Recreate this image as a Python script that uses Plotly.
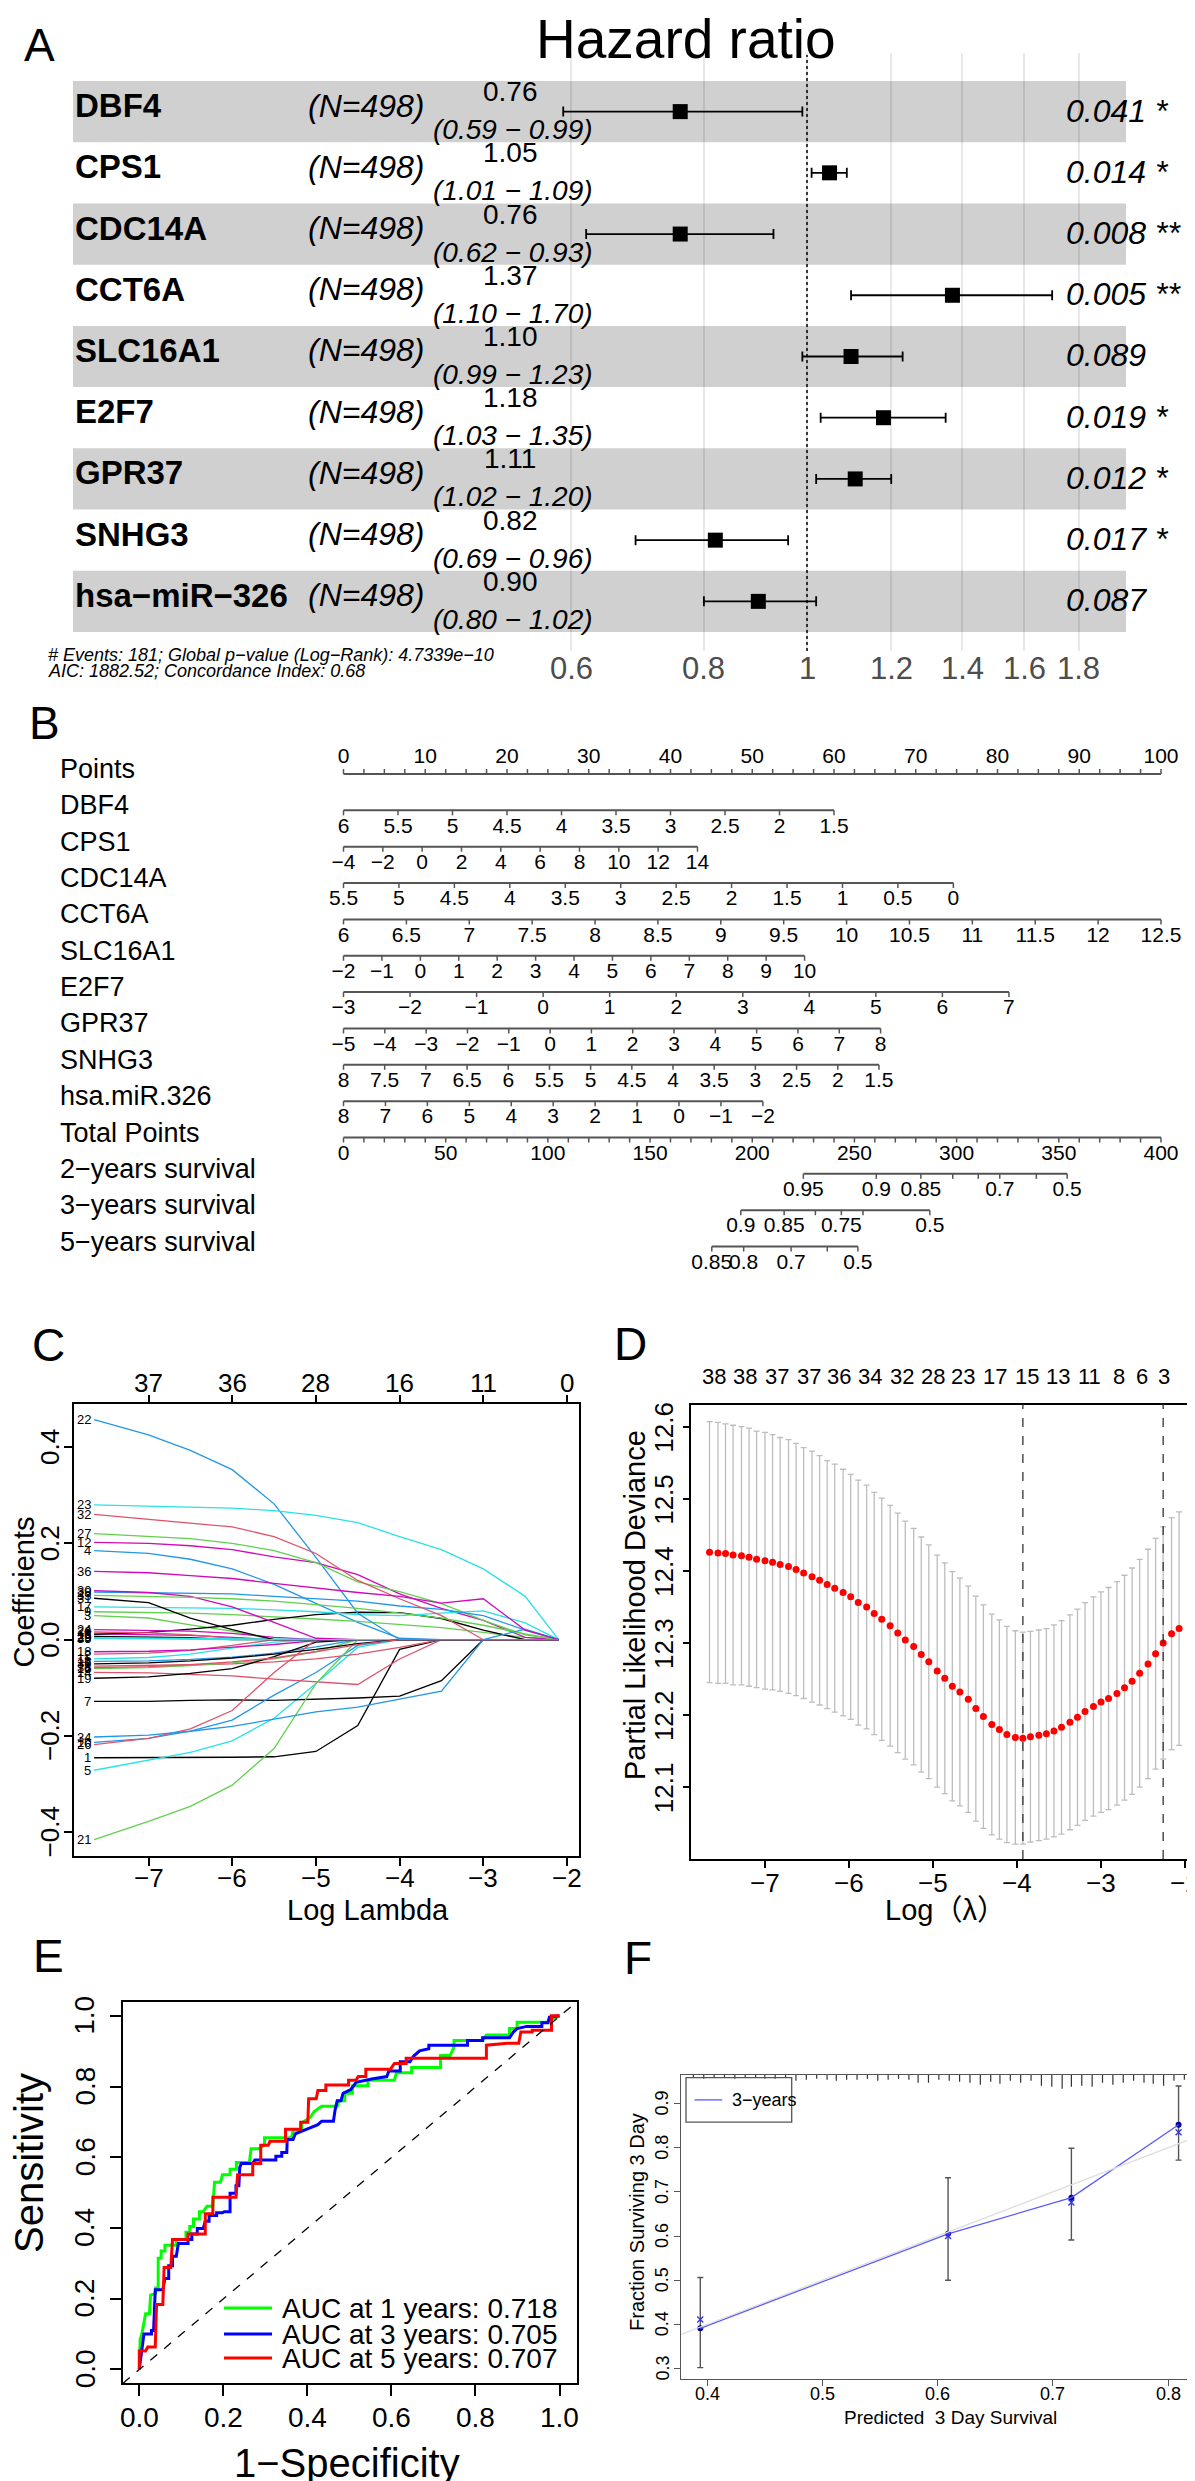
import numpy as np
import plotly.graph_objects as go

W, H = 1195, 2481
FONT = "Liberation Sans, Arial, Helvetica, sans-serif"
CJK = "Liberation Sans, Noto Sans CJK SC, sans-serif"

# ====================== DATA ======================
# ---- Panel A: multivariate Cox forest plot ----
genes = ["DBF4", "CPS1", "CDC14A", "CCT6A", "SLC16A1", "E2F7", "GPR37", "SNHG3", "hsa−miR−326"]
n_patients = [498, 498, 498, 498, 498, 498, 498, 498, 498]
hr = [0.76, 1.05, 0.76, 1.37, 1.10, 1.18, 1.11, 0.82, 0.90]
hr_low = [0.59, 1.01, 0.62, 1.10, 0.99, 1.03, 1.02, 0.69, 0.80]
hr_high = [0.99, 1.09, 0.93, 1.70, 1.23, 1.35, 1.20, 0.96, 1.02]
p_values = [0.041, 0.014, 0.008, 0.005, 0.089, 0.019, 0.012, 0.017, 0.087]
hr_ticks = [0.6, 0.8, 1, 1.2, 1.4, 1.6, 1.8]
n_events = 181
global_p = "4.7339e−10"
aic = 1882.52
c_index = 0.68

# ---- Panel B: nomogram ----
nomo_labels = ["Points", "DBF4", "CPS1", "CDC14A", "CCT6A", "SLC16A1", "E2F7", "GPR37", "SNHG3",
               "hsa.miR.326", "Total Points", "2−years survival", "3−years survival", "5−years survival"]
dbf4_vals = [6, 5.5, 5, 4.5, 4, 3.5, 3, 2.5, 2, 1.5]
cps1_vals = [-4, -2, 0, 2, 4, 6, 8, 10, 12, 14]
cdc14a_vals = [5.5, 5, 4.5, 4, 3.5, 3, 2.5, 2, 1.5, 1, 0.5, 0]
cct6a_vals = [6, 6.5, 7, 7.5, 8, 8.5, 9, 9.5, 10, 10.5, 11, 11.5, 12, 12.5]
slc16a1_vals = [-2, -1, 0, 1, 2, 3, 4, 5, 6, 7, 8, 9, 10]
e2f7_vals = [-3, -2, -1, 0, 1, 2, 3, 4, 5, 6, 7]
gpr37_vals = [-5, -4, -3, -2, -1, 0, 1, 2, 3, 4, 5, 6, 7, 8]
snhg3_vals = [8, 7.5, 7, 6.5, 6, 5.5, 5, 4.5, 4, 3.5, 3, 2.5, 2, 1.5]
mir326_vals = [8, 7, 6, 5, 4, 3, 2, 1, 0, -1, -2]
nomo_max_points = [60.0, 43.3, 74.6, 100.0, 56.4, 81.4, 65.7, 65.5, 51.3]
surv2_vals = [0.95, 0.9, 0.85, 0.8, 0.75, 0.7, 0.6, 0.5]
surv2_pts = [225.0, 260.7, 282.5, 298.1, 310.6, 321.1, 339.0, 354.1]
surv2_labeled = [0.95, 0.9, 0.85, 0.7, 0.5]
surv3_vals = [0.9, 0.85, 0.8, 0.75, 0.7, 0.5]
surv3_pts = [194.4, 215.6, 230.9, 243.6, 254.2, 286.9]
surv3_labeled = [0.9, 0.85, 0.75, 0.5]
surv5_vals = [0.85, 0.8, 0.7, 0.6, 0.5]
surv5_pts = [180.2, 195.8, 219.0, 236.7, 251.7]
surv5_labeled = [0.85, 0.8, 0.7, 0.5]

# ---- Panel C: LASSO coefficient paths ----
lasso_loglambda = [-7.65, -7.0, -6.5, -6.0, -5.5, -5.0, -4.5, -4.0, -3.5, -3.0, -2.5, -2.1]
lasso_coefs = [
    [-0.245, -0.245, -0.245, -0.244, -0.243, -0.232, -0.178, -0.020, 0, 0, 0, 0],
    [-0.030, -0.028, -0.022, -0.012, 0, 0, 0, 0, 0, 0, 0, 0],
    [0.050, 0.045, 0.031, 0.018, 0, 0, 0, 0, 0, 0, 0, 0],
    [0.185, 0.179, 0.167, 0.147, 0.115, 0.075, 0.036, 0.003, 0, 0, 0, 0],
    [-0.271, -0.250, -0.234, -0.210, -0.163, -0.091, -0.016, 0, 0, 0, 0, 0],
    [0.012, 0.011, 0.009, 0.005, 0, 0, 0, 0, 0, 0, 0, 0],
    [-0.128, -0.128, -0.126, -0.125, -0.126, -0.124, -0.121, -0.117, -0.085, 0, 0, 0],
    [-0.055, -0.054, -0.052, -0.050, -0.046, -0.040, -0.030, -0.016, 0, 0, 0, 0],
    [0.058, 0.057, 0.055, 0.052, 0.048, 0.043, 0.038, 0.032, 0.025, 0.015, 0.005, 0],
    [-0.213, -0.205, -0.190, -0.167, -0.115, -0.068, -0.012, 0, 0, 0, 0, 0],
    [-0.040, -0.037, -0.030, -0.018, -0.005, 0, 0, 0, 0, 0, 0, 0],
    [0.202, 0.200, 0.195, 0.187, 0.172, 0.160, 0.135, 0.095, 0.065, 0.040, 0.005, 0],
    [0.011, 0.015, 0.022, 0.030, 0.042, 0.052, 0.057, 0.056, 0.044, 0.020, 0, 0],
    [-0.068, -0.069, -0.072, -0.075, -0.082, -0.088, -0.093, -0.040, 0, 0, 0, 0],
    [-0.060, -0.058, -0.054, -0.048, -0.040, -0.025, 0, 0, 0, 0, 0, 0],
    [-0.045, -0.044, -0.041, -0.036, -0.028, -0.015, 0, 0, 0, 0, 0, 0],
    [0.068, 0.067, 0.066, 0.065, 0.062, 0.058, 0.052, 0.050, 0.055, 0.060, 0.035, 0],
    [-0.025, -0.024, -0.021, -0.016, -0.010, -0.002, 0, 0, 0, 0, 0, 0],
    [-0.080, -0.077, -0.070, -0.060, -0.035, -0.005, 0, 0, 0, 0, 0, 0],
    [0.016, 0.014, 0.010, 0.003, 0, 0, 0, 0, 0, 0, 0, 0],
    [-0.415, -0.377, -0.346, -0.302, -0.226, -0.091, 0, 0, 0, 0, 0, 0],
    [0.457, 0.425, 0.393, 0.353, 0.282, 0.171, 0.055, 0, 0, 0, 0, 0],
    [0.280, 0.277, 0.275, 0.273, 0.268, 0.258, 0.243, 0.214, 0.187, 0.147, 0.090, 0],
    [0.021, 0.020, 0.018, 0.013, 0.005, 0, 0, 0, 0, 0, 0, 0],
    [0.007, 0.006, 0.004, 0, 0, 0, 0, 0, 0, 0, 0, 0],
    [-0.218, -0.205, -0.185, -0.147, -0.068, 0, 0, 0, 0, 0, 0, 0],
    [0.220, 0.215, 0.210, 0.200, 0.185, 0.160, 0.120, 0.100, 0.075, 0.040, 0.010, 0],
    [0.099, 0.098, 0.097, 0.095, 0.090, 0.085, 0.080, 0.070, 0.063, 0.050, 0.020, 0],
    [0.004, 0.003, 0.002, 0.001, 0, 0, 0, 0, 0, 0, 0, 0],
    [0.102, 0.098, 0.090, 0.068, 0.036, 0.003, 0, 0, 0, 0, 0, 0],
    [0.086, 0.077, 0.045, 0.021, 0, 0, 0, 0, 0, 0, 0, 0],
    [0.260, 0.250, 0.242, 0.234, 0.214, 0.179, 0.123, 0.085, 0.050, 0, 0, 0],
    [0.092, 0.090, 0.088, 0.085, 0.080, 0.073, 0.065, 0.055, 0.045, 0.030, 0.012, 0],
    [-0.202, -0.198, -0.190, -0.180, -0.165, -0.150, -0.140, -0.124, -0.107, 0, 0.022, 0],
    [0.003, 0.002, 0, 0, 0, 0, 0, 0, 0, 0, 0, 0],
    [0.142, 0.139, 0.133, 0.127, 0.117, 0.107, 0.098, 0.090, 0.076, 0.085, 0.020, 0],
    [-0.050, -0.048, -0.044, -0.038, -0.030, -0.020, -0.008, 0, 0, 0, 0, 0],
    [-0.058, -0.056, -0.052, -0.046, -0.038, -0.025, -0.010, 0, 0, 0, 0, 0],
]
lasso_df_at = [-7, -6, -5, -4, -3, -2]
lasso_df = [37, 36, 28, 16, 11, 0]
lasso_yticks = [-0.4, -0.2, 0.0, 0.2, 0.4]

# ---- Panel D: 10-fold CV partial likelihood deviance ----
cv_loglambda = [-7.66, -7.56, -7.47, -7.38, -7.28, -7.19, -7.10, -7.00, -6.91, -6.82,
                -6.72, -6.63, -6.54, -6.44, -6.35, -6.26, -6.17, -6.07, -5.98, -5.89,
                -5.79, -5.70, -5.61, -5.51, -5.42, -5.33, -5.23, -5.14, -5.05, -4.95,
                -4.86, -4.77, -4.68, -4.58, -4.49, -4.40, -4.30, -4.21, -4.12, -4.02,
                -3.93, -3.84, -3.74, -3.65, -3.56, -3.47, -3.37, -3.28, -3.19, -3.09,
                -3.00, -2.91, -2.81, -2.72, -2.63, -2.54, -2.44, -2.35, -2.26, -2.16, -2.07]
cv_mean = [12.426, 12.425, 12.424, 12.422, 12.421, 12.419, 12.416, 12.414, 12.412, 12.409,
           12.406, 12.402, 12.397, 12.392, 12.387, 12.381, 12.376, 12.370, 12.364, 12.356,
           12.350, 12.341, 12.333, 12.324, 12.314, 12.304, 12.295, 12.284, 12.274, 12.261,
           12.251, 12.240, 12.232, 12.222, 12.209, 12.198, 12.187, 12.180, 12.173, 12.169,
           12.168, 12.170, 12.172, 12.174, 12.178, 12.183, 12.190, 12.197, 12.205, 12.212,
           12.218, 12.223, 12.230, 12.238, 12.247, 12.258, 12.271, 12.285, 12.300, 12.313, 12.320]
cv_se = [0.181, 0.181, 0.180, 0.180, 0.179, 0.179, 0.178, 0.178, 0.177, 0.176,
         0.176, 0.175, 0.174, 0.174, 0.173, 0.172, 0.172, 0.171, 0.170, 0.170,
         0.169, 0.168, 0.168, 0.167, 0.166, 0.165, 0.164, 0.163, 0.162, 0.161,
         0.160, 0.159, 0.158, 0.157, 0.156, 0.155, 0.153, 0.152, 0.150, 0.148,
         0.147, 0.146, 0.146, 0.146, 0.147, 0.148, 0.149, 0.150, 0.151, 0.152,
         0.153, 0.154, 0.155, 0.156, 0.157, 0.158, 0.159, 0.160, 0.161, 0.161, 0.162]
cv_top_pos = [-7.61, -7.24, -6.86, -6.48, -6.12, -5.75, -5.37, -5.00, -4.64, -4.26, -3.88, -3.51, -3.14, -2.79, -2.51, -2.25]
cv_top_nz = [38, 38, 37, 37, 36, 34, 32, 28, 23, 17, 15, 13, 11, 8, 6, 3]
cv_yticks = [12.1, 12.2, 12.3, 12.4, 12.5, 12.6]
lambda_min = -3.93
lambda_1se = -2.26

# ---- Panel E: time-dependent ROC ----
roc_1y = [(0, 0), (0.002, 0.084), (0.006, 0.1), (0.011, 0.131), (0.015, 0.157), (0.024, 0.157), (0.027, 0.21),
          (0.039, 0.215), (0.039, 0.23), (0.045, 0.23), (0.045, 0.314), (0.052, 0.314), (0.052, 0.335),
          (0.061, 0.335), (0.061, 0.351), (0.088, 0.351), (0.088, 0.367), (0.111, 0.367), (0.111, 0.388),
          (0.12, 0.388), (0.12, 0.404), (0.129, 0.404), (0.129, 0.425), (0.143, 0.425), (0.143, 0.446),
          (0.152, 0.446), (0.161, 0.461), (0.175, 0.461), (0.179, 0.508), (0.179, 0.529), (0.193, 0.529),
          (0.198, 0.55), (0.216, 0.55), (0.216, 0.566), (0.231, 0.566), (0.231, 0.585), (0.262, 0.585),
          (0.266, 0.624), (0.284, 0.624), (0.298, 0.634), (0.298, 0.655), (0.362, 0.655), (0.366, 0.676),
          (0.387, 0.676), (0.387, 0.697), (0.407, 0.713), (0.416, 0.729), (0.434, 0.744), (0.471, 0.744),
          (0.475, 0.76), (0.489, 0.76), (0.489, 0.781), (0.507, 0.781), (0.507, 0.802), (0.544, 0.802),
          (0.544, 0.818), (0.607, 0.818), (0.612, 0.839), (0.648, 0.839), (0.648, 0.854), (0.717, 0.854),
          (0.717, 0.888), (0.74, 0.888), (0.749, 0.912), (0.749, 0.93), (0.817, 0.93), (0.826, 0.946),
          (0.881, 0.946), (0.881, 0.964), (0.899, 0.964), (0.899, 0.982), (0.981, 0.982), (0.981, 0.99), (1, 1)]
roc_3y = [(0, 0), (0.005, 0.047), (0.008, 0.073), (0.011, 0.1), (0.029, 0.1), (0.029, 0.11), (0.034, 0.11),
          (0.038, 0.225), (0.056, 0.225), (0.061, 0.257), (0.07, 0.257), (0.07, 0.293), (0.079, 0.293),
          (0.079, 0.32), (0.088, 0.32), (0.093, 0.356), (0.116, 0.356), (0.116, 0.367), (0.125, 0.367),
          (0.125, 0.383), (0.138, 0.383), (0.138, 0.398), (0.152, 0.398), (0.157, 0.419), (0.166, 0.419),
          (0.166, 0.435), (0.184, 0.435), (0.184, 0.443), (0.198, 0.443), (0.202, 0.446), (0.216, 0.446),
          (0.216, 0.498), (0.23, 0.498), (0.23, 0.519), (0.237, 0.519), (0.239, 0.571), (0.243, 0.582),
          (0.27, 0.582), (0.275, 0.592), (0.325, 0.592), (0.325, 0.603), (0.339, 0.603), (0.339, 0.613),
          (0.351, 0.613), (0.352, 0.65), (0.366, 0.65), (0.371, 0.666), (0.403, 0.681), (0.425, 0.692),
          (0.434, 0.702), (0.462, 0.702), (0.466, 0.734), (0.471, 0.76), (0.48, 0.76), (0.485, 0.781),
          (0.503, 0.791), (0.516, 0.812), (0.553, 0.821), (0.589, 0.828), (0.594, 0.844), (0.621, 0.844),
          (0.621, 0.87), (0.644, 0.87), (0.653, 0.886), (0.667, 0.901), (0.689, 0.907), (0.689, 0.917),
          (0.781, 0.917), (0.781, 0.93), (0.817, 0.93), (0.817, 0.938), (0.881, 0.938), (0.89, 0.954),
          (0.899, 0.964), (0.922, 0.97), (0.958, 0.97), (0.958, 0.98), (0.972, 0.98), (0.976, 0.996), (1, 1)]
roc_5y = [(0, 0), (0, 0.052), (0.015, 0.052), (0.02, 0.063), (0.038, 0.063), (0.041, 0.183), (0.056, 0.183),
          (0.059, 0.288), (0.075, 0.288), (0.079, 0.367), (0.116, 0.367), (0.116, 0.383), (0.157, 0.383),
          (0.157, 0.44), (0.175, 0.44), (0.175, 0.487), (0.23, 0.487), (0.234, 0.55), (0.27, 0.55),
          (0.27, 0.582), (0.289, 0.582), (0.289, 0.634), (0.307, 0.634), (0.311, 0.645), (0.348, 0.645),
          (0.348, 0.679), (0.384, 0.679), (0.384, 0.699), (0.401, 0.699), (0.403, 0.765), (0.421, 0.765),
          (0.425, 0.789), (0.444, 0.789), (0.444, 0.804), (0.498, 0.804), (0.498, 0.818), (0.516, 0.818),
          (0.521, 0.828), (0.539, 0.828), (0.539, 0.849), (0.598, 0.849), (0.607, 0.865), (0.635, 0.865),
          (0.635, 0.88), (0.826, 0.88), (0.826, 0.917), (0.876, 0.922), (0.903, 0.922), (0.908, 0.954),
          (0.935, 0.954), (0.935, 0.959), (0.981, 0.959), (0.981, 1.0), (1, 1)]
auc_years = [1, 3, 5]
auc_values = [0.718, 0.705, 0.707]
roc_ticks = [0.0, 0.2, 0.4, 0.6, 0.8, 1.0]

# ---- Panel F: calibration curve (3 years) ----
cal_pred = [0.394, 0.609, 0.716, 0.809]
cal_obs = [0.391, 0.605, 0.687, 0.852]
cal_corrected = [0.411, 0.600, 0.676, 0.835]
cal_low = [0.302, 0.500, 0.591, 0.772]
cal_high = [0.506, 0.732, 0.799, 0.940]
cal_xticks = [0.4, 0.5, 0.6, 0.7, 0.8]
cal_yticks = [0.3, 0.4, 0.5, 0.6, 0.7, 0.8, 0.9]
rug_pred = [0.388, 0.397, 0.406, 0.415, 0.424, 0.433, 0.442, 0.450, 0.459, 0.468,
            0.477, 0.486, 0.495, 0.504, 0.512, 0.521, 0.530, 0.539, 0.548, 0.557,
            0.566, 0.575, 0.583, 0.592, 0.601, 0.610, 0.619, 0.628, 0.637, 0.646,
            0.654, 0.663, 0.672, 0.681, 0.690, 0.699, 0.708, 0.716, 0.725, 0.734,
            0.743, 0.752, 0.761, 0.770, 0.779, 0.787, 0.796, 0.805, 0.814]
rug_freq = [3, 4, 3, 3, 4, 3, 3, 4, 4, 3, 6, 5, 4, 5, 6, 5, 5, 4, 6, 5,
            4, 5, 8, 8, 5, 6, 7, 8, 10, 7, 9, 6, 8, 6, 11, 12, 14, 12, 11, 12,
            8, 10, 8, 6, 8, 9, 11, 6, 5]

# ====================== HELPERS ======================
R_PAL = ["black", "#DF536B", "#61D04F", "#2297E6", "#28E2E5", "#CD0BBC"]


def fx(px):
    return px / W


def fy(py):
    return 1 - py / H


def lin(p, pa, va, pb, vb):
    return va + (p - pa) * (vb - va) / (pb - pa)


def xdom(l, r, pa, va, pb, vb):
    return dict(domain=[fx(l), fx(r)], range=[lin(l, pa, va, pb, vb), lin(r, pa, va, pb, vb)])


def ydom(t, b, pa, va, pb, vb):
    return dict(domain=[fy(b), fy(t)], range=[lin(b, pa, va, pb, vb), lin(t, pa, va, pb, vb)])


def fmt(v):
    return f"{v:g}".replace("-", "−")


anns = []
shapes = []


def text(x, y, s, size, xref="paper", yref="paper", xanchor="center", yanchor="middle",
         color="black", angle=0, xshift=0, yshift=0, family=FONT):
    anns.append(dict(x=x, y=y, xref=xref, yref=yref, text=s, showarrow=False,
                     font=dict(family=family, size=size, color=color), xanchor=xanchor,
                     yanchor=yanchor, textangle=angle, xshift=xshift, yshift=yshift))


def xlabels(xref, vals, texts, py, size, color="black"):
    for v, t in zip(vals, texts):
        text(v, fy(py), t, size, xref=xref, color=color)


def ylabels(yref, vals, texts, px, size):
    for v, t in zip(vals, texts):
        text(fx(px), v, t, size, yref=yref, angle=-90)


def frame_axis(**kw):
    base = dict(showline=True, mirror=True, linecolor="black", linewidth=1.5, ticks="outside",
                tickcolor="black", tickwidth=1.5, ticklen=7, showgrid=False, zeroline=False,
                automargin=False, showticklabels=False)
    base.update(kw)
    return base


fig = go.Figure()
layout = {}

# ====================== PANEL A ======================
ROW0, ROWH = 73.0, 61.22


def row_of(p):
    return (p - ROW0) / ROWH - 0.5


rows = list(range(len(genes)))
LN10 = np.log(10)
layout["xaxis"] = dict(type="log", domain=[0, 1], range=[(0 - 799) / (462 * LN10), (W - 799) / (462 * LN10)],
                       tickvals=hr_ticks, showticklabels=False, showgrid=True,
                       gridcolor="rgba(0,0,0,0.09)", gridwidth=1.5, ticks="", showline=False, zeroline=False,
                       anchor="y", automargin=False)
layout["yaxis"] = dict(domain=[fy(643), fy(45)], range=[row_of(643), row_of(45)], visible=False,
                       anchor="x", automargin=False)
for i in rows:
    if i % 2 == 0:
        shapes.append(dict(type="rect", xref="paper", yref="y", x0=fx(65), x1=fx(1118), y0=i - 0.5,
                           y1=i + 0.5, fillcolor="#d0d0d0", line=dict(width=0), layer="below"))
fig.add_trace(go.Scatter(x=[1, 1], y=[row_of(643), row_of(47)], mode="lines",
                         line=dict(color="black", width=1.5, dash="dot"), xaxis="x", yaxis="y",
                         showlegend=False, hoverinfo="skip"))
fig.add_trace(go.Scatter(
    x=hr, y=rows, mode="markers", marker=dict(symbol="square", size=15, color="black"),
    error_x=dict(type="data", symmetric=False, array=[h - v for h, v in zip(hr_high, hr)],
                 arrayminus=[v - l for v, l in zip(hr, hr_low)], color="black", thickness=1.8, width=5),
    xaxis="x", yaxis="y", showlegend=False, hoverinfo="skip"))
for i, g in enumerate(genes):
    text(fx(65), i, f"<b>{g}</b>", 33, yref="y", xanchor="left", yshift=6)
    text(fx(298), i, f"<i>(N={n_patients[i]})</i>", 32, yref="y", xanchor="left", yshift=6)
    text(fx(502), i, f"{hr[i]:.2f}", 28, yref="y", yshift=20)
    text(fx(505), i, f"<i>({hr_low[i]:.2f} − {hr_high[i]:.2f})</i>", 28, yref="y", yshift=-18)
    p = p_values[i]
    stars = "**" if p < 0.01 else ("*" if p < 0.05 else "")
    text(fx(1056), i, f"<i>{p:.3f} {stars}</i>", 32, yref="y", xanchor="left", yshift=1)
xlabels("x", [np.log10(t) for t in hr_ticks], [fmt(t) for t in hr_ticks], 661, 31, color="#4d4d4d")
text(fx(678), fy(31), "Hazard ratio", 55)
text(fx(38), fy(647), f"<i># Events: {n_events}; Global p−value (Log−Rank): {global_p}</i>", 18, xanchor="left")
text(fx(38), fy(663), f"<i>AIC: {aic:.2f}; Concordance Index: {c_index:.2f}</i>", 18, xanchor="left")

# ====================== PANEL B ======================
B_ROW0, B_ROWH = 766.0, 36.35


def brow(p):
    return (p - B_ROW0) / B_ROWH


layout["xaxis2"] = dict(xdom(0, W, 335.5, 0, 1153, 100), visible=False, anchor="y2", automargin=False)
layout["yaxis2"] = dict(domain=[fy(1290), fy(700)], range=[brow(1290), brow(700)], visible=False,
                        anchor="x2", automargin=False)
TK = 5 / B_ROWH
LBL_BELOW = 17 / B_ROWH
LBL_ABOVE = -16 / B_ROWH
ax_x, ax_y, tk_x, tk_y, lb_x, lb_y, lb_t = [], [], [], [], [], [], []


def add_axis(k, pts, labels_pts, labels_txt, up=False):
    ax_x.extend([min(pts), max(pts), None])
    ax_y.extend([k, k, None])
    d = -TK if up else TK
    for p in pts:
        tk_x.extend([p, p, None])
        tk_y.extend([k, k + d, None])
    for p, t in zip(labels_pts, labels_txt):
        lb_x.append(p)
        lb_y.append(k + (LBL_ABOVE if up else LBL_BELOW))
        lb_t.append(t)


pts_ticks = list(np.arange(0, 100.01, 2.5))
pts_labels = list(range(0, 101, 10))
add_axis(0, pts_ticks, pts_labels, [str(v) for v in pts_labels], up=True)
var_vals = [dbf4_vals, cps1_vals, cdc14a_vals, cct6a_vals, slc16a1_vals, e2f7_vals, gpr37_vals,
            snhg3_vals, mir326_vals]
for j, (vals, mx) in enumerate(zip(var_vals, nomo_max_points)):
    pts = [(v - vals[0]) / (vals[-1] - vals[0]) * mx for v in vals]
    add_axis(j + 1, pts, pts, [fmt(v) for v in vals])
tot_ticks = list(range(0, 401, 10))
tot_labels = list(range(0, 401, 50))
add_axis(10, [t / 4 for t in tot_ticks], [t / 4 for t in tot_labels], [str(t) for t in tot_labels])
for k, (sv, sp, sl) in enumerate([(surv2_vals, surv2_pts, surv2_labeled),
                                  (surv3_vals, surv3_pts, surv3_labeled),
                                  (surv5_vals, surv5_pts, surv5_labeled)]):
    pos = [p / 4 for p in sp]
    lab_pos = [p / 4 for v, p in zip(sv, sp) if v in sl]
    lab_txt = [fmt(v) for v in sv if v in sl]
    add_axis(11 + k, pos, lab_pos, lab_txt)
fig.add_trace(go.Scatter(x=ax_x, y=ax_y, mode="lines", line=dict(color="#555555", width=2),
                         xaxis="x2", yaxis="y2", showlegend=False, hoverinfo="skip"))
fig.add_trace(go.Scatter(x=tk_x, y=tk_y, mode="lines", line=dict(color="#555555", width=1.5),
                         xaxis="x2", yaxis="y2", showlegend=False, hoverinfo="skip"))
fig.add_trace(go.Scatter(x=lb_x, y=lb_y, mode="text", text=lb_t,
                         textfont=dict(family=FONT, size=21, color="black"), textposition="middle center",
                         cliponaxis=False, xaxis="x2", yaxis="y2", showlegend=False, hoverinfo="skip"))
for k, lab in enumerate(nomo_labels):
    text(fx(50), k, lab, 27, yref="y2", xanchor="left", yshift=5)

# ====================== PANEL C ======================
layout["xaxis3"] = frame_axis(**xdom(66, 571, 140.5, -7, 559, -2), anchor="y3",
                              tickvals=lasso_df_at, ticklen=8)
layout["yaxis3"] = frame_axis(**ydom(1396, 1848, 1439, 0.4, 1824.4, -0.4), anchor="x3",
                              tickvals=lasso_yticks, ticklen=8)
layout["xaxis4"] = dict(xdom(66, 571, 140.5, -7, 559, -2), overlaying="x3", side="top", anchor="y3",
                        tickvals=lasso_df_at, ticks="outside", ticklen=8, tickwidth=1.5, tickcolor="black",
                        showticklabels=False, showline=False, showgrid=False, zeroline=False, automargin=False)
for idx, coefs in enumerate(lasso_coefs, start=1):
    col = R_PAL[(idx - 1) % 6]
    fig.add_trace(go.Scatter(x=lasso_loglambda, y=coefs, mode="lines", line=dict(color=col, width=1.3),
                             xaxis="x3", yaxis="y3", showlegend=False, hoverinfo="skip"))
    text(lasso_loglambda[0], coefs[0], str(idx), 13, xref="x3", yref="y3", xanchor="right", xshift=-1)
fig.add_trace(go.Scatter(x=[lasso_df_at[0]], y=[0], mode="markers", marker=dict(opacity=0),
                         xaxis="x4", yaxis="y3", showlegend=False, hoverinfo="skip"))
xlabels("x3", lasso_df_at, [fmt(v) for v in lasso_df_at], 1870, 26)
xlabels("x3", lasso_df_at, [str(v) for v in lasso_df], 1375, 26)
ylabels("y3", lasso_yticks, [f"{v:.1f}".replace("-", "−") for v in lasso_yticks], 42, 26)
text(fx(15.5), fy(1584), "Coefficients", 29, angle=-90)
text(fx(360), fy(1902), "Log Lambda", 29)

# ====================== PANEL D ======================
layout["xaxis5"] = frame_axis(**xdom(683.4, 1190, 757, -7, 1177, -2), anchor="y5",
                              tickvals=[-7, -6, -5, -4, -3, -2])
layout["yaxis5"] = frame_axis(**ydom(1396.5, 1851, 1418.7, 12.6, 1779.2, 12.1), anchor="x5",
                              tickvals=cv_yticks)
fig.add_trace(go.Scatter(x=cv_loglambda, y=cv_mean, mode="markers", marker=dict(color="red", size=7),
                         error_y=dict(type="data", array=cv_se, color="#bdbdbd", thickness=1.3, width=3),
                         xaxis="x5", yaxis="y5", showlegend=False, hoverinfo="skip"))
for lv in [lambda_min, lambda_1se]:
    shapes.append(dict(type="line", xref="x5", yref="y5 domain", x0=lv, x1=lv, y0=0, y1=1,
                       line=dict(color="#333333", width=1.3, dash="dash")))
xlabels("x5", [-7, -6, -5, -4, -3, -2], [fmt(v) for v in [-7, -6, -5, -4, -3, -2]], 1875, 26)
xlabels("x5", cv_top_pos, [str(v) for v in cv_top_nz], 1368, 22)
ylabels("y5", cv_yticks, [f"{v:.1f}" for v in cv_yticks], 656, 26)
text(fx(627), fy(1597), "Partial Likelihood Deviance", 29, angle=-90)
text(fx(937), fy(1902), "Log（λ）", 29, family=CJK)

# ====================== PANEL E ======================
layout["xaxis7"] = frame_axis(**xdom(114.8, 569, 131.3, 0, 551.5, 1), anchor="y7",
                              tickvals=roc_ticks, ticklen=11)
layout["yaxis7"] = frame_axis(**ydom(1993.7, 2375.4, 2361.3, 0, 2007.8, 1), anchor="x7",
                              tickvals=roc_ticks, ticklen=11)
shapes.append(dict(type="line", xref="x7 domain", yref="y7 domain", x0=0, y0=0, x1=1, y1=1,
                   line=dict(color="black", width=1.3, dash="dash")))
roc_colors = ["#00FF00", "#0000FF", "#FF0000"]
for curve, col in zip([roc_1y, roc_3y, roc_5y], roc_colors):
    fig.add_trace(go.Scatter(x=[p[0] for p in curve], y=[p[1] for p in curve], mode="lines",
                             line=dict(color=col, width=3), xaxis="x7", yaxis="y7",
                             showlegend=False, hoverinfo="skip"))
for k, (yr, auc, col) in enumerate(zip(auc_years, auc_values, roc_colors)):
    ly = [2300, 2326, 2350][k]
    shapes.append(dict(type="line", xref="paper", yref="paper", x0=fx(216), x1=fx(264), y0=fy(ly), y1=fy(ly),
                       line=dict(color=col, width=3)))
    text(fx(272), fy(ly), f"AUC at {yr} years: {auc:.3f}", 28, xanchor="left")
xlabels("x7", roc_ticks, [f"{v:.1f}" for v in roc_ticks], 2409, 28)
ylabels("y7", roc_ticks, [f"{v:.1f}" for v in roc_ticks], 77, 28)
text(fx(21), fy(2155), "Sensitivity", 40, angle=-90)
text(fx(339), fy(2455), "1−Specificity", 40)

# ====================== PANEL F ======================
f_x = xdom(673, 1190, 699.2, 0.4, 1160.2, 0.8)
f_y = ydom(2066.7, 2371.3, 2360.5, 0.3, 2095.6, 0.9)
layout["xaxis8"] = frame_axis(**f_x, anchor="y8", tickvals=cal_xticks, linecolor="#555555",
                              linewidth=1.2, tickcolor="#555555", tickwidth=1.2, ticklen=6)
layout["yaxis8"] = frame_axis(**f_y, anchor="x8", tickvals=cal_yticks, linecolor="#555555",
                              linewidth=1.2, tickcolor="#555555", tickwidth=1.2, ticklen=6)
lo, hi = f_x["range"]
shapes.append(dict(type="line", xref="x8", yref="y8", x0=lo, y0=lo, x1=hi, y1=hi,
                   line=dict(color="#dedede", width=1.3)))
dy_px = (0.9 - 0.3) / (2360.5 - 2095.6)
ytop = f_y["range"][1]
rx, ry = [], []
for p, n in zip(rug_pred, rug_freq):
    rx.extend([p, p, None])
    ry.extend([ytop, ytop - n * dy_px, None])
fig.add_trace(go.Scatter(x=rx, y=ry, mode="lines", line=dict(color="#333333", width=1.2),
                         xaxis="x8", yaxis="y8", showlegend=False, hoverinfo="skip"))
fig.add_trace(go.Scatter(x=cal_pred, y=cal_obs, mode="markers", marker=dict(color="#0000a0", size=6),
                         error_y=dict(type="data", symmetric=False,
                                      array=[h - o for h, o in zip(cal_high, cal_obs)],
                                      arrayminus=[o - l for o, l in zip(cal_obs, cal_low)],
                                      color="#555555", thickness=1.4, width=3),
                         xaxis="x8", yaxis="y8", showlegend=False, hoverinfo="skip"))
fig.add_trace(go.Scatter(x=cal_pred, y=cal_obs, mode="lines", line=dict(color="#5a5aff", width=1.3),
                         xaxis="x8", yaxis="y8", showlegend=False, hoverinfo="skip"))
fig.add_trace(go.Scatter(x=cal_pred, y=cal_corrected, mode="markers",
                         marker=dict(symbol="x-thin", size=6, line=dict(color="#3030ff", width=1.3)),
                         xaxis="x8", yaxis="y8", showlegend=False, hoverinfo="skip"))
shapes.append(dict(type="rect", xref="paper", yref="paper", x0=fx(678), x1=fx(783.7), y0=fy(2114.2),
                   y1=fy(2069.7), line=dict(color="#555555", width=1.3), fillcolor="rgba(0,0,0,0)"))
shapes.append(dict(type="line", xref="paper", yref="paper", x0=fx(686.5), x1=fx(714.2), y0=fy(2091.9),
                   y1=fy(2091.9), line=dict(color="#5a5aff", width=1.3)))
text(fx(722), fy(2092), "3−years", 18, xanchor="left")
xlabels("x8", cal_xticks, [f"{v:.1f}" for v in cal_xticks], 2386, 18)
ylabels("y8", cal_yticks, [f"{v:.1f}" for v in cal_yticks], 654, 18)
text(fx(942), fy(2409), "Predicted\u00a0 3 Day Survival", 19)
text(fx(629), fy(2214), "Fraction Surviving 3 Day", 20, angle=-90)

# ====================== PANEL LETTERS ======================
for lab, (px, py) in zip("ABCDEF", [(31, 37), (36, 715), (41, 1337), (622, 1336), (40, 1948), (630, 1950)]):
    text(fx(px), fy(py), lab, 46)

fig.update_layout(width=W, height=H, margin=dict(l=0, r=0, t=0, b=0), autosize=False, template="none",
                  paper_bgcolor="white", plot_bgcolor="rgba(0,0,0,0)", showlegend=False,
                  font=dict(family=FONT, color="black"), annotations=anns, shapes=shapes, **layout)
fig.write_html("out.html")
